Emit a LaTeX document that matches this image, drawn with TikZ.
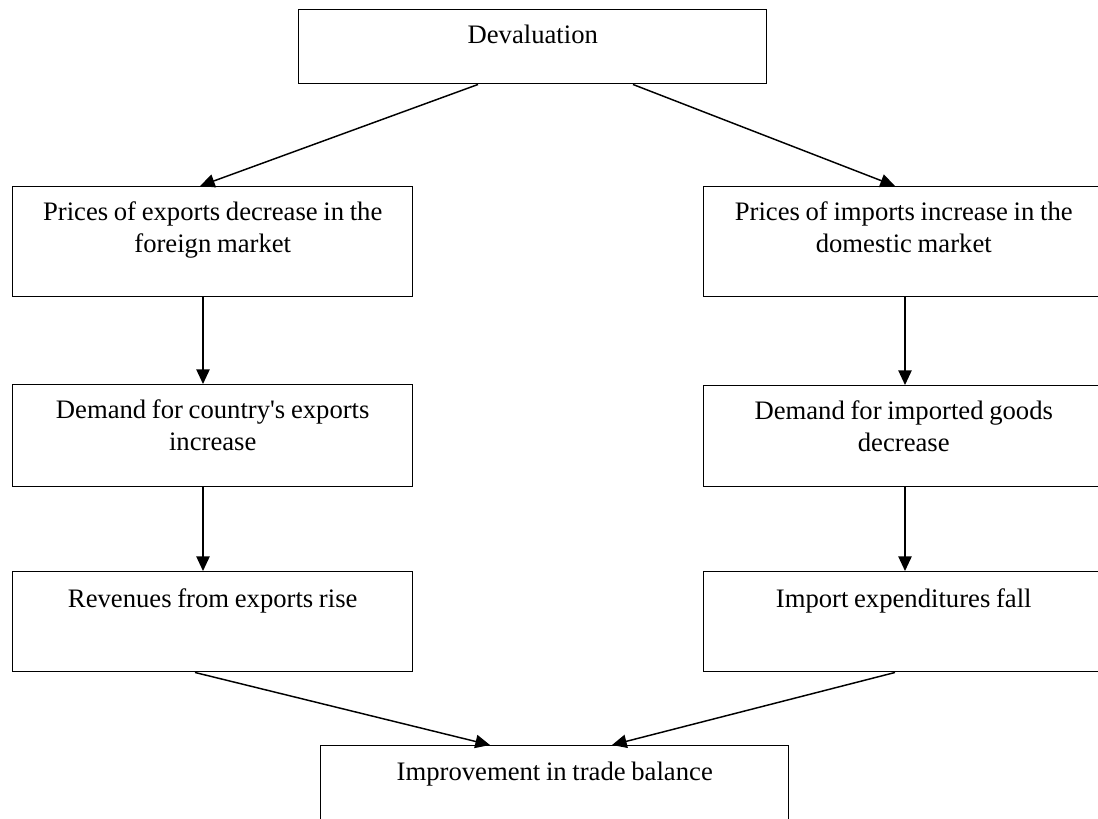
\documentclass[tikz,border=0pt]{standalone}
\usepackage{fontspec}
\setmainfont{Liberation Serif}[WordSpace={0.85,0,0}]
\usetikzlibrary{arrows.meta,calc}
\begin{document}
\begin{tikzpicture}[x=0.75pt,y=-0.75pt,
  boxnode/.style={draw,line width=1.1pt,inner sep=0pt,anchor=north west},
  txt/.style={anchor=base,align=center,inner sep=0pt,font=\fontsize{20pt}{24pt}\selectfont},
  arr/.style={line width=1.1pt,-{Triangle[length=11pt,width=10pt]}}]
\useasboundingbox (0,0) rectangle (1098,818);
% boxes
\node[boxnode,minimum width=468*0.75pt,minimum height=74*0.75pt] (dev) at (298,9) {};
\node[boxnode,minimum width=400*0.75pt,minimum height=110*0.75pt] (l1) at (12,186) {};
\node[boxnode,minimum width=400*0.75pt,minimum height=110*0.75pt] (r1) at (703,186) {};
\node[boxnode,minimum width=400*0.75pt,minimum height=102*0.75pt] (l2) at (12,384) {};
\node[boxnode,minimum width=400*0.75pt,minimum height=101*0.75pt] (r2) at (703,385) {};
\node[boxnode,minimum width=400*0.75pt,minimum height=100*0.75pt] (l3) at (12,571) {};
\node[boxnode,minimum width=400*0.75pt,minimum height=100*0.75pt] (r3) at (703,571) {};
\node[boxnode,minimum width=468*0.75pt,minimum height=110*0.75pt] (imp) at (320,745) {};
% texts (base anchor = last line baseline)
\node[txt] (tdev) at ($(dev.north)+(0,34)$) {Devaluation};
\node[txt] (tl1) at ($(l1.north)+(0,66)$) {Prices of exports decrease in the\\foreign market};
\node[txt] (tr1) at ($(r1.north)+(0,66)$) {Prices of imports increase in the\\domestic market};
\node[txt] (tl2) at ($(l2.north)+(0,66)$) {Demand for country\textquotesingle s exports\\increase};
\node[txt] (tr2) at ($(r2.north)+(0,66)$) {Demand for imported goods\\decrease};
\node[txt] (tl3) at ($(l3.north)+(0,36)$) {Revenues from exports rise};
\node[txt] (tr3) at ($(r3.north)+(0,36)$) {Import expenditures fall};
\node[txt] (timp) at ($(imp.north)+(0,35)$) {Improvement in trade balance};
% arrows
\draw[arr] ($(dev.south west)+(180,0)$) -- ($(l1.north west)+(188,0)$);
\draw[arr] ($(dev.south west)+(335,0)$) -- ($(r1.north west)+(192,0)$);
\draw[arr] ($(l1.south west)+(191,0)$) -- ($(l2.north west)+(191,0)$);
\draw[arr] ($(r1.south west)+(202,0)$) -- ($(r2.north west)+(202,0)$);
\draw[arr] ($(l2.south west)+(191,0)$) -- ($(l3.north west)+(191,0)$);
\draw[arr] ($(r2.south west)+(202,0)$) -- ($(r3.north west)+(202,0)$);
\draw[arr] ($(l3.south west)+(183,0)$) -- ($(imp.north west)+(170,0)$);
\draw[arr] ($(r3.south west)+(192,0)$) -- ($(imp.north west)+(292,0)$);
\end{tikzpicture}
\end{document}
